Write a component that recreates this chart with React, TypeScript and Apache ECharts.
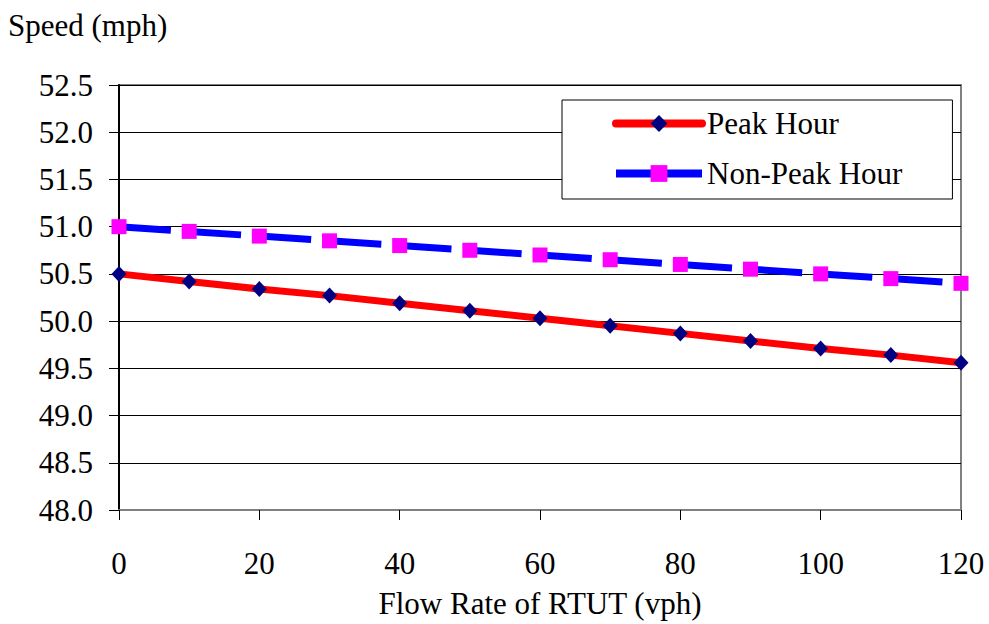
import React, { useEffect, useRef } from "react";
import * as echarts from "echarts";

const flowRates = [0, 10, 20, 30, 40, 50, 60, 70, 80, 90, 100, 110, 120];
const peakHour = [50.5, 50.42, 50.34, 50.27, 50.19, 50.11, 50.03, 49.95, 49.87, 49.79, 49.71, 49.64, 49.56];
const nonPeakHour = [51.0, 50.95, 50.9, 50.85, 50.8, 50.75, 50.7, 50.65, 50.6, 50.55, 50.5, 50.45, 50.4];

const FONT = "Times New Roman, Liberation Serif, DejaVu Serif, serif";

export default function App() {
  const ref = useRef<HTMLDivElement>(null);
  useEffect(() => {
    if (!ref.current) return;
    const chart = echarts.init(ref.current, undefined, { renderer: "svg" });
    chart.setOption({
      animation: false,
      backgroundColor: "#ffffff",
      textStyle: { fontFamily: FONT, color: "#000" },
      title: {
        text: "Speed (mph)",
        left: 8,
        top: 10,
        padding: 0,
        textStyle: { fontFamily: FONT, fontSize: 31, fontWeight: "normal", color: "#000" },
      },
      grid: {
        left: 119,
        right: 28,
        top: 85,
        bottom: 111,
        show: true,
        borderColor: "#808080",
        borderWidth: 2,
        backgroundColor: "transparent",
      },
      legend: {
        orient: "vertical",
        left: 562,
        top: 100,
        padding: [8, 50, 10, 50],
        itemGap: 19,
        itemWidth: 86,
        itemHeight: 21,
        itemTextGap: 0,
        backgroundColor: "#fff",
        borderColor: "#000",
        borderWidth: 1,
        textStyle: { fontFamily: FONT, fontSize: 31, color: "#000" },
        data: [
          { name: "Peak Hour", lineStyle: { width: 8, type: "solid", cap: "round" } },
          { name: "Non-Peak Hour", lineStyle: { width: 8, type: "solid" } },
        ],
      },
      xAxis: {
        type: "value",
        min: 0,
        max: 120,
        interval: 20,
        name: "Flow Rate of RTUT (vph)",
        nameLocation: "middle",
        nameGap: 78,
        nameTextStyle: { fontFamily: FONT, fontSize: 31, color: "#000" },
        axisLine: { show: true, lineStyle: { color: "#808080", width: 2 } },
        axisTick: { show: true, length: 10, inside: false, lineStyle: { color: "#000", width: 1 } },
        axisLabel: { margin: 38, fontFamily: FONT, fontSize: 31, color: "#000" },
        splitLine: { show: false },
      },
      yAxis: {
        type: "value",
        min: 48,
        max: 52.5,
        interval: 0.5,
        axisLine: { show: true, lineStyle: { color: "#000", width: 2 } },
        axisTick: { show: true, length: 10, inside: false, lineStyle: { color: "#000", width: 1 } },
        axisLabel: {
          margin: 26,
          fontFamily: FONT,
          fontSize: 31,
          color: "#000",
          formatter: (v: number) => v.toFixed(1),
        },
        splitLine: { show: true, lineStyle: { color: "#000", width: 1 } },
      },
      series: [
        {
          name: "Peak Hour",
          type: "line",
          data: flowRates.map((x, i) => [x, peakHour[i]]),
          symbol: "diamond",
          symbolSize: [15, 16],
          showAllSymbol: true,
          lineStyle: { color: "#ff0000", width: 7 },
          itemStyle: { color: "#000080", borderWidth: 0 },
          z: 3,
        },
        {
          name: "Non-Peak Hour",
          type: "line",
          data: flowRates.map((x, i) => [x, nonPeakHour[i]]),
          symbol: "rect",
          symbolSize: 15,
          showAllSymbol: true,
          lineStyle: { color: "#0000ff", width: 7, type: [52, 18.3] },
          itemStyle: { color: "#ff00ff", borderWidth: 0 },
          z: 3,
        },
      ],
    });
    return () => chart.dispose();
  }, []);
  return (
    <div
      ref={ref}
      style={{ position: "fixed", left: 0, top: 0, width: 989, height: 624, background: "#fff" }}
    />
  );
}
